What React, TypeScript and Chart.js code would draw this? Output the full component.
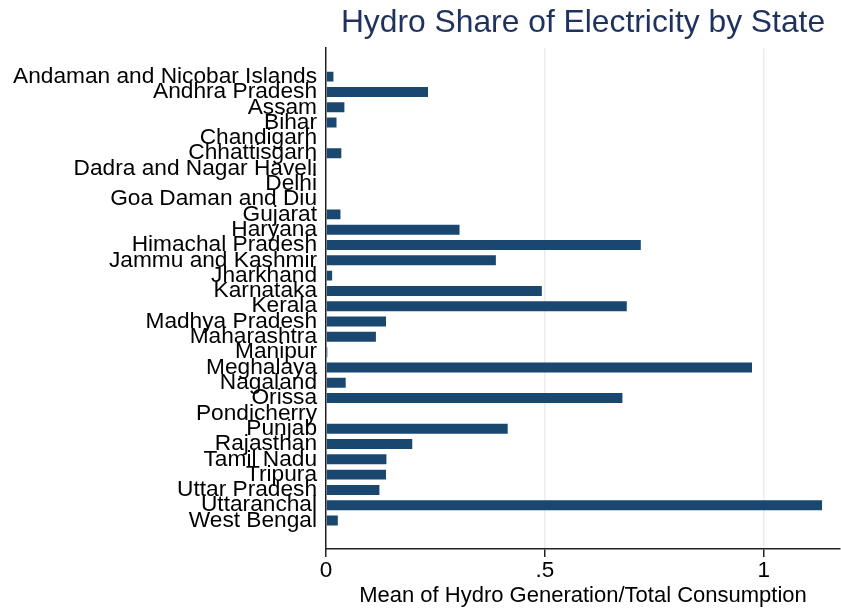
import React, { useEffect, useRef } from 'react';
import { Chart, registerables } from 'chart.js';

Chart.register(...registerables);

const states = [
  'Andaman and Nicobar Islands',
  'Andhra Pradesh',
  'Assam',
  'Bihar',
  'Chandigarh',
  'Chhattisgarh',
  'Dadra and Nagar Haveli',
  'Delhi',
  'Goa Daman and Diu',
  'Gujarat',
  'Haryana',
  'Himachal Pradesh',
  'Jammu and Kashmir',
  'Jharkhand',
  'Karnataka',
  'Kerala',
  'Madhya Pradesh',
  'Maharashtra',
  'Manipur',
  'Meghalaya',
  'Nagaland',
  'Orissa',
  'Pondicherry',
  'Punjab',
  'Rajasthan',
  'Tamil Nadu',
  'Tripura',
  'Uttar Pradesh',
  'Uttaranchal',
  'West Bengal',
];

const hydroShare = [
  0.017, 0.233, 0.042, 0.024, 0, 0.035, 0, 0, 0, 0.033,
  0.305, 0.719, 0.388, 0.014, 0.493, 0.687, 0.137, 0.114, 0.003, 0.973,
  0.045, 0.677, 0, 0.415, 0.197, 0.138, 0.137, 0.122, 1.133, 0.027,
];

const xTickValues = [0, 0.5, 1];
const xTickLabels = ['0', '.5', '1'];

const TITLE = 'Hydro Share of Electricity by State';
const X_TITLE = 'Mean of Hydro Generation/Total Consumption';

const FONT = '"Liberation Sans", Arial, Helvetica, sans-serif';

export default function App() {
  const ref = useRef<HTMLCanvasElement>(null);

  useEffect(() => {
    document.body.style.margin = '0';
    const canvas = ref.current;
    if (!canvas) return;
    const chart = new Chart(canvas, {
      type: 'bar',
      data: {
        datasets: [
          {
            data: states.map((_, i) => ({ x: hydroShare[i], y: i })),
            backgroundColor: '#1a476f',
            borderWidth: 0,
            barPercentage: 0.65,
            categoryPercentage: 1,
          } as any,
        ],
      },
      options: {
        indexAxis: 'y',
        animation: false,
        responsive: false,
        maintainAspectRatio: false,
        layout: { padding: { left: 0, right: 1, top: 0, bottom: 0 } },
        plugins: {
          legend: { display: false },
          tooltip: { enabled: false },
          title: {
            display: true,
            text: TITLE,
            fullSize: false,
            align: 'center',
            color: '#1f325e',
            font: { family: FONT, size: 31.8, weight: 'normal' },
            padding: { top: 4, bottom: 6 },
          },
        },
        scales: {
          x: {
            type: 'linear',
            min: 0,
            max: 1.174,
            offset: false,
            afterBuildTicks: (s: any) => {
              s.ticks = xTickValues.map((v) => ({ value: v }));
            },
            afterFit: (s: any) => {
              s.height = 60;
            },
            ticks: {
              autoSkip: false,
              maxRotation: 0,
              color: '#000',
              padding: 0,
              font: { family: FONT, size: 22.5 },
              callback: (v: any) => {
                const i = xTickValues.indexOf(Number(v));
                return i >= 0 ? xTickLabels[i] : '';
              },
            },
            grid: {
              color: (ctx: any) => (ctx.tick && ctx.tick.value === 0 ? 'rgba(0,0,0,0)' : '#e6eef1'),
              lineWidth: 1.5,
              drawTicks: true,
              tickLength: 8,
              tickColor: '#222',
              tickWidth: 1.5,
              offset: false,
            },
            border: { display: true, color: '#222', width: 1.5 },
            title: {
              display: true,
              text: X_TITLE,
              color: '#000',
              font: { family: FONT, size: 22 },
              padding: { top: 0, bottom: 0 },
            },
          },
          y: {
            type: 'linear',
            reverse: true,
            offset: false,
            min: -1.86,
            max: 30.86,
            afterBuildTicks: (s: any) => {
              s.ticks = states.map((_, i) => ({ value: i }));
            },
            afterFit: (s: any) => {
              s.width = 326;
            },
            ticks: {
              autoSkip: false,
              color: '#000',
              padding: 9,
              font: { family: FONT, size: 22.7 },
              callback: (v: any) => states[Number(v)] ?? '',
            },
            grid: { display: false, drawTicks: false, offset: false },
            border: { display: true, color: '#222', width: 1.5 },
          },
        },
      } as any,
    });
    return () => chart.destroy();
  }, []);

  return (
    <div style={{ width: 841, height: 609 }}>
      <canvas ref={ref} width={841} height={609} style={{ display: 'block' }} />
    </div>
  );
}
